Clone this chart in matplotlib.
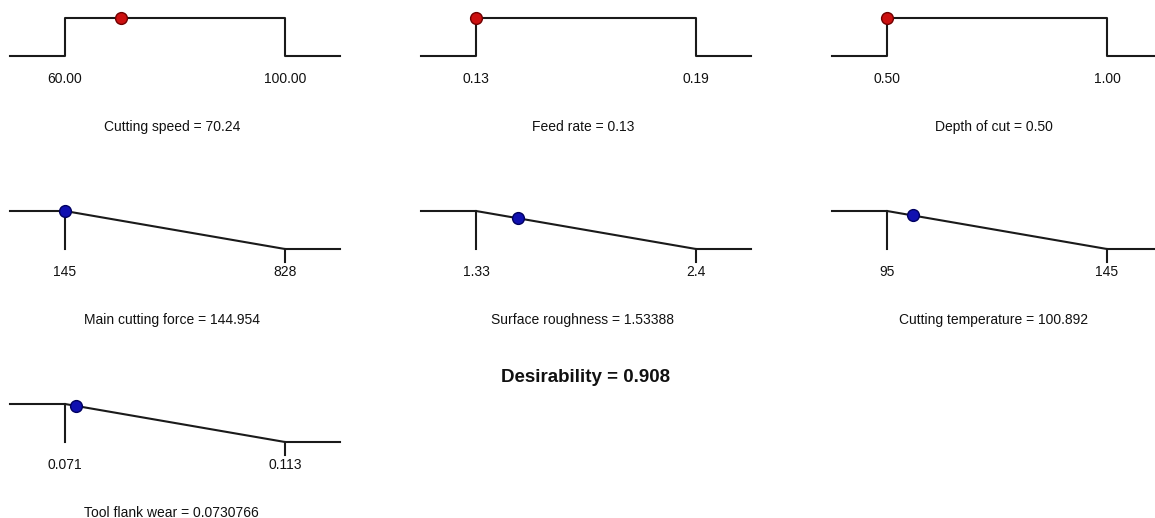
import numpy as np
import matplotlib
matplotlib.use('Agg')
import matplotlib.pyplot as plt

plt.rcParams['font.family'] = ['Liberation Sans', 'DejaVu Sans']

# factors (top row) and responses (other rows)
names = ['Cutting speed', 'Feed rate', 'Depth of cut',
         'Main cutting force', 'Surface roughness', 'Cutting temperature',
         'Tool flank wear']
lows = [60.0, 0.13, 0.50, 145.0, 1.33, 95.0, 0.071]
highs = [100.0, 0.19, 1.00, 828.0, 2.4, 145.0, 0.113]
low_labels = ['60.00', '0.13', '0.50', '145', '1.33', '95', '0.071']
high_labels = ['100.00', '0.19', '1.00', '828', '2.4', '145', '0.113']
values = [70.24, 0.13, 0.50, 144.954, 1.53388, 100.892, 0.0730766]
value_labels = ['70.24', '0.13', '0.50', '144.954', '1.53388', '100.892', '0.0730766']
goals = ['range', 'range', 'range', 'min', 'min', 'min', 'min']
desirability = '0.908'

W, H = 1155, 518
fig = plt.figure(figsize=(W / 100, H / 100), dpi=100)

col_x = [10, 421, 832]
row_top = [18, 211, 404]
panel_w = 330
panel_h = 38

for i in range(len(names)):
    r, c = i // 3, i % 3
    left = col_x[c] / W
    bottom = (H - row_top[r] - panel_h) / H
    ax = fig.add_axes([left, bottom, panel_w / W, panel_h / H])
    lo, hi = lows[i], highs[i]
    d = hi - lo
    xmin, xmax = lo - 0.25 * d, hi + 0.25 * d
    ax.set_xlim(xmin, xmax)
    ax.set_ylim(0, 1)
    ax.axis('off')

    if goals[i] == 'range':
        xs = [xmin, lo, lo, hi, hi, xmax]
        ys = [0, 0, 1, 1, 0, 0]
        ax.plot(xs, ys, color='#1a1a1a', lw=1.5, clip_on=False)
        v = values[i]
        dv = 1.0 if lo <= v <= hi else 0.0
        ax.plot(v, dv, 'o', ms=8.5, mfc='#cc1010', mec='#700000', mew=1,
                clip_on=False, zorder=5)
    else:
        ax.plot([xmin, lo, hi, xmax], [1, 1, 0, 0], color='#1a1a1a', lw=1.5,
                clip_on=False)
        ax.plot([lo, lo], [1, 0], color='#1a1a1a', lw=1.5, clip_on=False)
        ax.plot([hi, hi], [0, -0.34], color='#1a1a1a', lw=1.5, clip_on=False)
        v = values[i]
        dv = min(1.0, max(0.0, (hi - v) / d))
        ax.plot(v, dv, 'o', ms=8.5, mfc='#1010b0', mec='#000060', mew=1,
                clip_on=False, zorder=5)

    tr = ax.get_xaxis_transform()
    ax.text(lo, -23 / panel_h, low_labels[i], transform=tr, ha='center',
            va='center', fontsize=10, color='#111111')
    ax.text(hi, -23 / panel_h, high_labels[i], transform=tr, ha='center',
            va='center', fontsize=10, color='#111111')
    ax.text(0.49, -71 / panel_h, names[i] + ' = ' + value_labels[i],
            transform=ax.transAxes, ha='center', va='center', fontsize=10,
            color='#111111')

fig.text((col_x[1] + panel_w / 2) / W, 1 - 377 / H,
         'Desirability = ' + desirability, ha='center', va='center',
         fontsize=13.5, fontweight='bold', color='#111111')

fig.savefig('out.png', dpi=100)
